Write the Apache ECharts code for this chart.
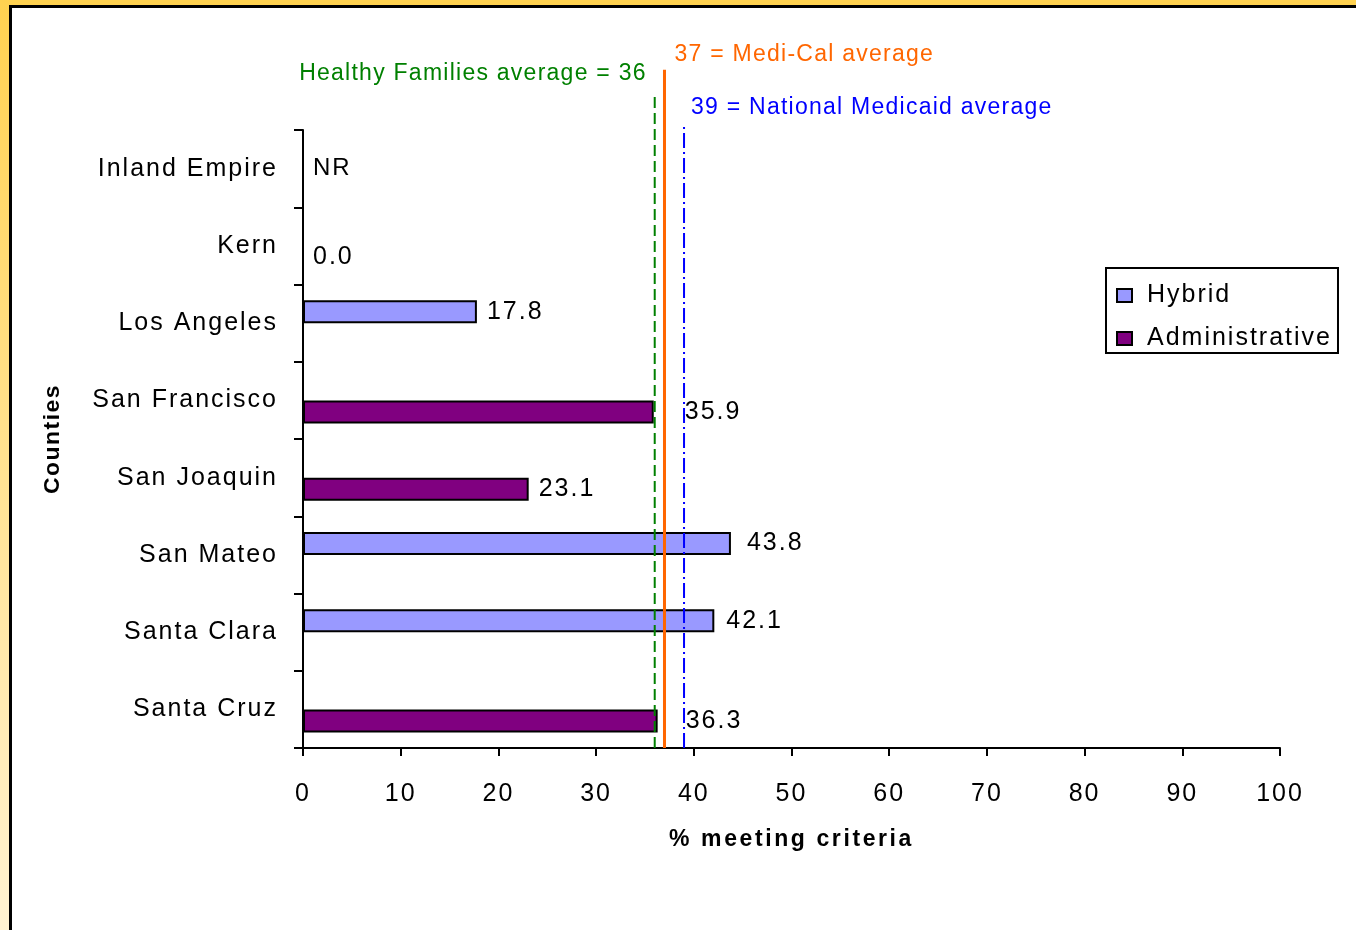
<!DOCTYPE html>
<html><head><meta charset="utf-8">
<script src="https://cdn.jsdelivr.net/npm/echarts@6/dist/echarts.min.js"></script>
<style>
html,body{margin:0;padding:0;background:#fff;overflow:hidden;}
#chart{position:absolute;left:0;top:0;width:1356px;height:930px;}
.ft{position:absolute;top:0;left:0;width:1356px;height:5px;background:#FFD250;z-index:2}
.fb{position:absolute;top:5px;left:9px;width:1347px;height:3px;background:#000;z-index:2}
.lt{position:absolute;top:0;left:0;width:9px;height:930px;background:linear-gradient(#FFD250,#FFF3D2);z-index:2}
.lb{position:absolute;top:5px;left:9px;width:3px;height:925px;background:#000;z-index:2}
</style></head><body>
<div id="chart"></div><div class="ft"></div><div class="fb"></div><div class="lt"></div><div class="lb"></div>
<script>
const categories = ['Inland Empire','Kern','Los Angeles','San Francisco','San Joaquin','San Mateo','Santa Clara','Santa Cruz'];
const hybrid = [null, null, 17.8, null, null, 43.8, 42.1, null];
const administrative = [null, 0.0, null, 35.9, 23.1, null, null, 36.3];
const notReported = ['Inland Empire'];
const xTickValues = [0,10,20,30,40,50,60,70,80,90,100];
const refValues = [36, 37, 39];
const refLabels = ['Healthy Families average = 36', '37 = Medi-Cal average', '39 = National Medicaid average'];

// wider letter spacing of the original (Excel-style) text rendering
function spacingFor(f){
  f = f || '';
  if (/22\.9px/.test(f)) return '1.5px';
  if (/bold|700/.test(f)) return '2.6px';
  if (/(^|\s)23px/.test(f)) return '1.25px';
  return '2px';
}
const hasLS = ('letterSpacing' in CanvasRenderingContext2D.prototype);
if (hasLS) {
  const proto = CanvasRenderingContext2D.prototype;
  const orig = proto.fillText;
  proto.fillText = function(t, x, y, w){
    this.letterSpacing = spacingFor(this.font);
    const r = (w === undefined) ? orig.call(this, t, x, y) : orig.call(this, t, x, y, w);
    this.letterSpacing = '0px';
    return r;
  };
  const mctx = document.createElement('canvas').getContext('2d');
  echarts.setPlatformAPI({
    measureText: function(text, font){
      mctx.font = font || '12px sans-serif';
      mctx.letterSpacing = spacingFor(mctx.font);
      return mctx.measureText(text);
    }
  });
}

const FONT = '"Liberation Sans", Arial, sans-serif';
const refColors = ['#008000', '#FF6600', '#0000FF'];
const refTypes = [[11,5], 'solid', [15,4,2,4]];
const refWidths = [2, 3, 2];
const refTops = [92.2, 95.8, 88.0];
const refLabelY = [95.3, 98.0, 90.5];
const refLabelPos = ['left', 'right', 'right'];
const refLabelDist = [8, 10, 7];
const labelDistance = {'San Francisco': 31, 'Santa Cruz': 28, 'San Mateo': 16, 'Santa Clara': 12};

function barData(arr){
  return arr.map((v,i)=> v===null ? null : {
    value: v,
    itemStyle: v===0 ? {borderWidth:0} : undefined,
    label: {distance: labelDistance[categories[i]] || 10}
  });
}
const barLabel = {show:true, position:'right', color:'#000', fontSize:25, fontFamily:FONT,
  formatter: p => p.value.toFixed(1)};

const series = [
  {name:'Hybrid', type:'bar', xAxisIndex:0, yAxisIndex:0, data: barData(hybrid),
   barWidth:23, barGap:'0%', itemStyle:{color:'#9999FF', borderColor:'#000', borderWidth:2},
   label: barLabel},
  {name:'Administrative', type:'bar', xAxisIndex:0, yAxisIndex:0, data: barData(administrative),
   barWidth:23, barGap:'0%', itemStyle:{color:'#800080', borderColor:'#000', borderWidth:2},
   label: barLabel},
  {name:'NR', type:'scatter', xAxisIndex:0, yAxisIndex:0, symbolSize:0, silent:true,
   itemStyle:{opacity:1},
   data: notReported.map(c => [0, c]),
   label:{show:true, position:'right', distance:10, formatter:'NR', color:'#000', fontSize:24, fontFamily:FONT}}
];
refValues.forEach((v,i)=>{
  series.push({type:'line', xAxisIndex:1, yAxisIndex:1, symbol:'none', silent:true, z:5,
    data:[[v,0],[v,refTops[i]]],
    lineStyle:{color:refColors[i], width:refWidths[i], type:refTypes[i], opacity:1}});
  series.push({type:'scatter', xAxisIndex:1, yAxisIndex:1, symbolSize:0, silent:true,
    itemStyle:{opacity:1},
    data:[[v, refLabelY[i]]],
    label:{show:true, position:refLabelPos[i], distance:refLabelDist[i], formatter:refLabels[i],
      color:refColors[i], fontSize:23, fontFamily:FONT}});
});

const chart = echarts.init(document.getElementById('chart'));
chart.setOption({
  animation:false,
  backgroundColor:'transparent',
  textStyle:{fontFamily:FONT},
  legend:{data:['Hybrid','Administrative'], orient:'vertical', left:1106, top:268,
    borderColor:'#000', borderWidth:2, padding:[14,6,1,10], itemWidth:15, itemHeight:13, itemGap:16,
    icon:'rect', textStyle:{fontSize:25, color:'#000', fontFamily:FONT, padding:[0,0,0,10]}},
  grid:[
    {left:303, top:130, width:977, height:618, containLabel:false},
    {left:303, top:40, width:977, height:708, containLabel:false}
  ],
  xAxis:[
    {gridIndex:0, type:'value', min:xTickValues[0], max:xTickValues[xTickValues.length-1], interval:xTickValues[1]-xTickValues[0],
     axisLine:{show:true, lineStyle:{color:'#000', width:2}},
     axisTick:{show:true, length:8, lineStyle:{color:'#000', width:2}},
     splitLine:{show:false},
     axisLabel:{color:'#000', fontSize:25, margin:33, fontFamily:FONT},
     name:'% meeting criteria', nameLocation:'middle', nameGap:79,
     nameTextStyle:{color:'#000', fontSize:23, fontWeight:'bold', fontFamily:FONT}},
    {gridIndex:1, type:'value', min:0, max:100, show:false}
  ],
  yAxis:[
    {gridIndex:0, type:'category', inverse:true, data:categories,
     axisLine:{show:true, lineStyle:{color:'#000', width:2}},
     axisTick:{show:true, length:9, lineStyle:{color:'#000', width:2}},
     axisLabel:{color:'#000', fontSize:25, margin:25, fontFamily:FONT},
     name:'Counties', nameLocation:'middle', nameGap:238, nameRotate:90,
     nameTextStyle:{color:'#000', fontSize:22.9, fontWeight:'bold', fontFamily:FONT}},
    {gridIndex:1, type:'value', min:0, max:100, show:false}
  ],
  series: series
});
</script>
</body></html>
